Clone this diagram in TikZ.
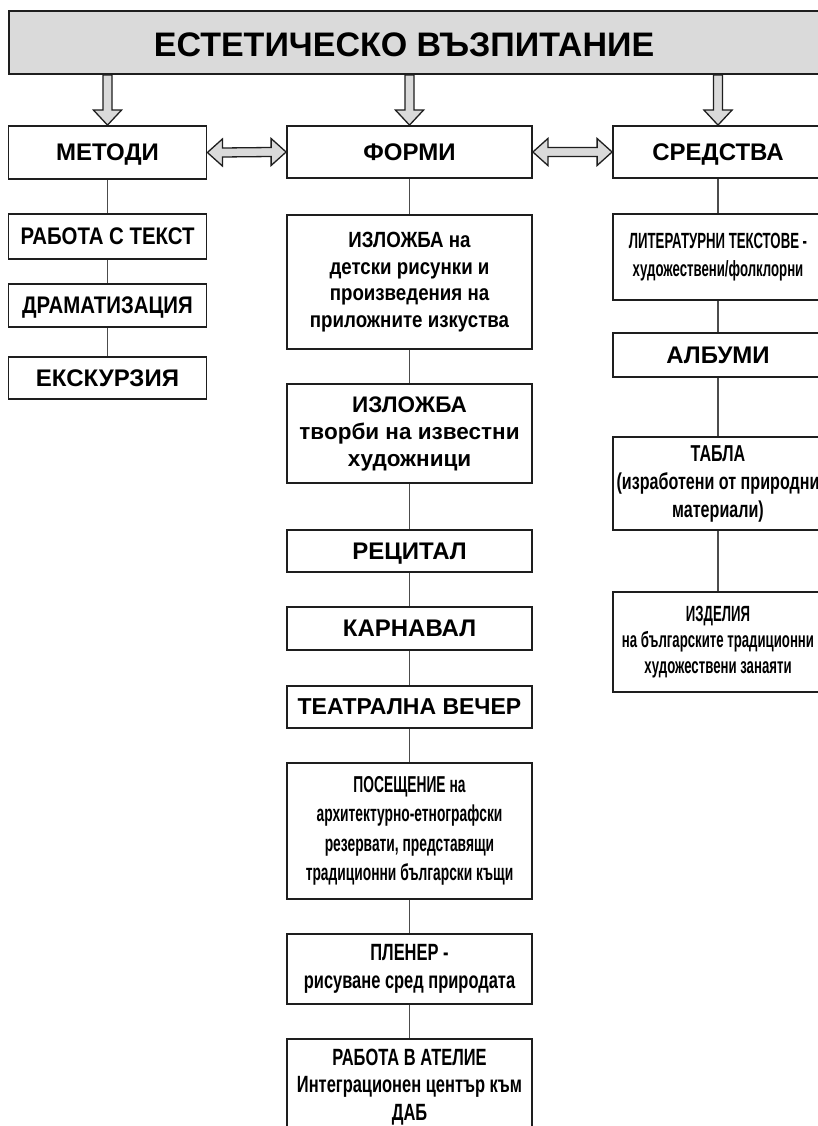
\documentclass[tikz,border=0pt]{standalone}
\usepackage{fontspec}
\setmainfont{Liberation Sans}
\newfontfamily\semifont{Liberation Sans}[FakeStretch=0.85]
\newfontfamily\narrowfont{Liberation Sans}[FakeStretch=0.7]
\newfontfamily\slimfont{Liberation Sans}[FakeStretch=0.6]
\newcommand{\fsize}[2]{\fontsize{#1}{#2}\selectfont}
\usetikzlibrary{calc}
\definecolor{bannergray}{RGB}{218,218,218}
\definecolor{boxline}{RGB}{30,30,30}
\tikzset{
  box/.style={draw=boxline, line width=1.8pt, fill=white, inner sep=0pt, align=center},
  leftbox/.style={box, minimum width=198pt},
  midbox/.style={box, minimum width=245pt},
  rightbox/.style={box, minimum width=210pt},
  oneline/.style={text depth=0pt},
  link/.style={draw=black!70, line width=1.1pt},
  hollow/.style={draw=boxline, line width=1.3pt, fill=bannergray, line join=miter}
}
\begin{document}
\begin{tikzpicture}[x=1pt, y=-1pt]
    \fill[white] (0,0) rectangle (818,1126);
    \useasboundingbox (0,0) rectangle (818,1126);
    % Заглавие
    \node[box, fill=bannergray, minimum width=830pt, minimum height=63pt] (banner) at (424,42.5) {};
    \node[oneline, font=\bfseries\fsize{34}{38}] (title) at (404,44.5) {ЕСТЕТИЧЕСКО ВЪЗПИТАНИЕ};
    % Методи, форми, средства
    \node[leftbox, oneline, minimum height=53pt, font=\bfseries\fsize{24}{27}] (metodi) at (107.5,152.5) {МЕТОДИ};
    \node[midbox, oneline, minimum height=52pt, font=\bfseries\fsize{24}{27}] (formi) at (409.5,152) {ФОРМИ};
    \node[rightbox, oneline, minimum height=52pt, font=\bfseries\fsize{24}{27}] (sredstva) at (718,152) {СРЕДСТВА};
    % Методи
    \node[leftbox, oneline, minimum height=45pt, font=\semifont\bfseries\fsize{24}{27}] (tekst) at (107.5,236.5) {РАБОТА С ТЕКСТ};
    \node[leftbox, oneline, minimum height=43pt, font=\semifont\bfseries\fsize{24}{27}] (drama) at (107.5,305.5) {ДРАМАТИЗАЦИЯ};
    \node[leftbox, oneline, minimum height=42pt, font=\bfseries\fsize{24}{27}] (ekskurzia) at (107.5,378) {ЕКСКУРЗИЯ};
    % Форми
    \node[midbox, minimum height=134pt, font=\semifont\bfseries\fsize{22}{26.7}] (izlozhba) at (409.5,282)
        {ИЗЛОЖБА на\\детски рисунки и\\произведения на\\приложните изкуства};
    \node[midbox, minimum height=99pt, font=\bfseries\fsize{22.5}{27}] (tvorbi) at (409.5,433.5)
        {ИЗЛОЖБА\\творби на известни\\художници};
    \node[midbox, oneline, minimum height=42pt, font=\bfseries\fsize{24}{27}] (recital) at (409.5,551) {РЕЦИТАЛ};
    \node[midbox, oneline, minimum height=43pt, font=\bfseries\fsize{24}{27}] (karnaval) at (409.5,628.5) {КАРНАВАЛ};
    \node[midbox, oneline, minimum height=42pt, font=\bfseries\fsize{23}{27}] (teatar) at (409.5,707) {ТЕАТРАЛНА ВЕЧЕР};
    \node[midbox, minimum height=136pt, font=\slimfont\bfseries\fsize{23}{29.5}] (poseshtenie) at (409.5,831)
        {ПОСЕЩЕНИЕ на\\архитектурно-етнографски\\резервати, представящи\\традиционни български къщи};
    \node[midbox, minimum height=70pt, font=\narrowfont\bfseries\fsize{23.5}{28}] (plener) at (409.5,969)
        {ПЛЕНЕР -\\рисуване сред природата};
    \node[midbox, minimum height=96pt, font=\narrowfont\bfseries\fsize{23.5}{27.5}] (atelie) at (409.5,1087)
        {РАБОТА В АТЕЛИЕ\\Интеграционен център към\\ДАБ};
    % Средства
    \node[rightbox, minimum height=86pt, font=\slimfont\bfseries\fsize{22}{28}] (literatura) at (718,257)
        {ЛИТЕРАТУРНИ ТЕКСТОВЕ -\\художествени/фолклорни};
    \node[rightbox, oneline, minimum height=44pt, font=\bfseries\fsize{24}{27}] (albumi) at (718,355) {АЛБУМИ};
    \node[rightbox, minimum height=93pt, font=\narrowfont\bfseries\fsize{23}{28}] (tabla) at (718,483.5)
        {ТАБЛА\\(изработени от природни\\материали)};
    \node[rightbox, minimum height=100pt, font=\slimfont\bfseries\fsize{22}{26}] (izdelia) at (718,642)
        {ИЗДЕЛИЯ\\на българските традиционни\\художествени занаяти};
    % Връзки
    \foreach \src/\dst in {metodi/tekst, tekst/drama, drama/ekskurzia,
        formi/izlozhba, izlozhba/tvorbi, tvorbi/recital, recital/karnaval, karnaval/teatar,
        teatar/poseshtenie, poseshtenie/plener, plener/atelie,
        sredstva/literatura, literatura/albumi, albumi/tabla, tabla/izdelia} {
        \draw[link] (\src) -- (\dst);
    }
    % Кухи стрелки
    \foreach \n in {metodi, formi, sredstva} {
        \draw[hollow] (\n.north) -- ++(-14,-15) -- ++(9.5,0) -- ($(banner.south -| \n.north)+(-4.5,0)$)
            -- ++(9,0) -- ($(\n.north)+(4.5,-15)$) -- ++(9.5,0) -- cycle;
    }
    \foreach \src/\dst in {metodi/formi, formi/sredstva} {
        \draw[hollow] (\src.east) -- ++(15,-13.5) -- ++(0,9) -- ($(\dst.west)+(-15,-4.5)$) -- ++(0,-9)
            -- (\dst.west) -- ++(-15,13.5) -- ++(0,-9) -- ($(\src.east)+(15,4.5)$) -- ++(0,9) -- cycle;
    }
\end{tikzpicture}
\end{document}
